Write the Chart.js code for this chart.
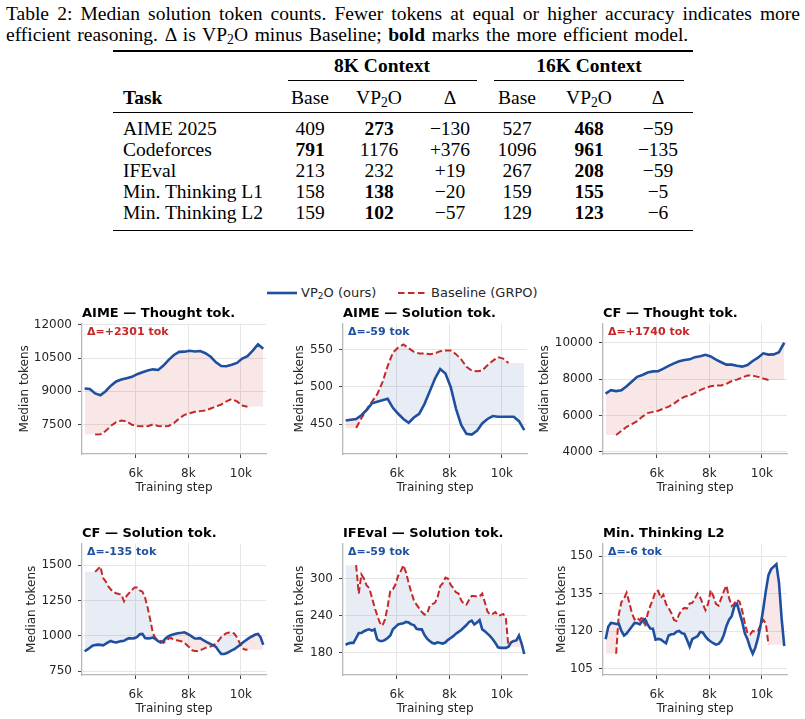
<!DOCTYPE html>
<html>
<head>
<meta charset="utf-8">
<script src="https://cdn.jsdelivr.net/npm/chart.js@4.4.1/dist/chart.umd.min.js"></script>
<style>
  body { margin: 0; background: #fff; width: 805px; height: 719px; position: relative; overflow: hidden;
         font-family: "Liberation Serif", "Times New Roman", serif; color: #000; }
  .cap { position: absolute; left: 6px; width: 794px; font-size: 19.5px; line-height: 21px; }
  .cap1 { top: 3px; text-align: justify; text-align-last: justify; }
  .cap2 { top: 24px; white-space: nowrap; word-spacing: 1.8px; }
  sub { font-size: 70%; line-height: 0; vertical-align: -0.25em; }
  .rule { position: absolute; background: #000; }
  .cell { position: absolute; font-size: 19.5px; line-height: 21px; white-space: nowrap; }
  .num { width: 120px; text-align: center; }
  .b { font-weight: bold; }
  .leg { position: absolute; font-family: "DejaVu Sans", sans-serif; font-size: 13px; color: #262626; line-height: 16px; white-space: nowrap; }
  canvas { position: absolute; }
</style>
</head>
<body>
<div class="cap cap1">Table 2: Median solution token counts. Fewer tokens at equal or higher accuracy indicates more</div>
<div class="cap cap2">efficient reasoning. Δ is VP<sub>2</sub>O minus Baseline; <b>bold</b> marks the more efficient model.</div>
<div id="table"></div>

<svg class="leg" style="left:266px;top:285px" width="32" height="16"><line x1="1" y1="8" x2="31" y2="8" stroke="#1f50a0" stroke-width="2.6"/></svg>
<div class="leg" style="left:301px;top:285px">VP<sub>2</sub>O (ours)</div>
<svg class="leg" style="left:397px;top:285px" width="32" height="16"><line x1="1" y1="8" x2="29" y2="8" stroke="#c62828" stroke-width="2" stroke-dasharray="6.5 3.5"/></svg>
<div class="leg" style="left:431px;top:285px">Baseline (GRPO)</div>

<canvas id="p0" width="260" height="196" style="left:12px;top:302px"></canvas>
<canvas id="p1" width="260" height="196" style="left:273px;top:302px"></canvas>
<canvas id="p2" width="260" height="196" style="left:533px;top:302px"></canvas>
<canvas id="p3" width="260" height="197" style="left:12px;top:522px"></canvas>
<canvas id="p4" width="260" height="197" style="left:273px;top:522px"></canvas>
<canvas id="p5" width="260" height="197" style="left:533px;top:522px"></canvas>

<script>
// ---- table data ----
const TASKS = ['AIME 2025', 'Codeforces', 'IFEval', 'Min. Thinking L1', 'Min. Thinking L2'];
const BASE_8K = ['409', '791', '213', '158', '159'];
const VP_8K = ['273', '1176', '232', '138', '102'];
const DELTA_8K = ['\u2212130', '+376', '+19', '\u221220', '\u221257'];
const BASE_16K = ['527', '1096', '267', '159', '129'];
const VP_16K = ['468', '961', '208', '155', '123'];
const DELTA_16K = ['\u221259', '\u2212135', '\u221259', '\u22125', '\u22126'];
const BOLD_8K = ['vp', 'base', '', 'vp', 'vp'];
const BOLD_16K = ['vp', 'vp', 'vp', 'vp', 'vp'];

// ---- chart data ----
const STEPS_TOP = [4050, 4250, 4450, 4650, 4850, 5050, 5250, 5450, 5650, 5850, 6050, 6250, 6450, 6650, 6850,
  7050, 7250, 7450, 7650, 7850, 8050, 8250, 8450, 8650, 8850, 9050, 9250, 9450, 9650, 9850,
  10050, 10250, 10450, 10650, 10850];
const STEPS_BOTTOM = [4050, 4150, 4250, 4350, 4450, 4550, 4650, 4750, 4850, 4950,
  5050, 5150, 5250, 5350, 5450, 5550, 5650, 5750, 5850, 5950,
  6050, 6150, 6250, 6350, 6450, 6550, 6650, 6750, 6850, 6950,
  7050, 7150, 7250, 7350, 7450, 7550, 7650, 7750, 7850, 7950,
  8050, 8150, 8250, 8350, 8450, 8550, 8650, 8750, 8850, 8950,
  9050, 9150, 9250, 9350, 9450, 9550, 9650, 9750, 9850, 9950,
  10050, 10150, 10250, 10350, 10450, 10550, 10650, 10750, 10850];

const AIME_THOUGHT_VP = [9120, 9100, 8900, 8820, 9000, 9250, 9440, 9530, 9590, 9650, 9770, 9860, 9940, 9990, 9960,
  10160, 10420, 10640, 10780, 10790, 10830, 10800, 10820, 10720, 10560, 10310, 10140, 10130, 10200, 10280,
  10480, 10590, 10840, 11120, 10920];
const AIME_THOUGHT_BASE = [null, null, 7040, 7050, 7200, 7430, 7600, 7670, 7640, 7480, 7430, 7420, 7420, 7500, 7430,
  7410, 7430, 7560, 7770, 7930, 8000, 8070, 8100, 8130, 8220, 8310, 8400, 8540, 8650, 8540,
  8350, 8300, null, null, null];

const AIME_SOL_VP = [455, 456, 457, 462, 469, 478, 480, 482, 484, 472, 464, 457, 452, 459, 464,
  477, 494, 511, 524, 518, 500, 471, 449, 437, 436, 441, 451, 457, 461, 460,
  460, 460, 460, 454, 442];
const AIME_SOL_BASE = [null, null, 445, 458, 470, 480, 490, 506, 528, 546, 553, 557, 552, 547, 545,
  545, 544, 545, 548, 549, 549, 544, 537, 527, 522, 521, 522, 529, 535, 540,
  538, 532, null, null, null];

const CF_THOUGHT_VP = [7200, 7390, 7340, 7380, 7610, 7870, 8120, 8220, 8360, 8420, 8430, 8570, 8720, 8860, 8970,
  9040, 9080, 9200, 9250, 9330, 9240, 9060, 8920, 8790, 8790, 8730, 8680, 8770, 8990, 9170,
  9410, 9340, 9350, 9470, 9990];
const CF_THOUGHT_BASE = [null, null, 4930, 5160, 5380, 5530, 5690, 5940, 6130, 6200, 6260, 6380, 6490, 6650, 6860,
  7030, 7100, 7240, 7390, 7510, 7600, 7650, 7650, 7740, 7890, 7970, 8080, 8190, 8190, 8120,
  8030, 7950, null, null, null];

const CF_SOL_VP = [890, 902, 915, 929, 934, 937, 935, 932, 943, 954,
  963, 955, 952, 958, 962, 964, 975, 983, 980, 983,
  992, 1010, 1013, 984, 981, 982, 988, 975, 962, 952,
  963, 984, 997, 1005, 1010, 1015, 1019, 1021, 1024, 1015,
  1005, 992, 980, 981, 983, 971, 960, 950, 941, 932,
  921, 893, 871, 871, 876, 886, 896, 905, 918, 933,
  949, 963, 976, 988, 998, 1008, 1012, 989, 935];
const CF_SOL_BASE = [null, null, null, null, 1452, 1470, 1490, 1410, 1385, 1349,
  1327, 1308, 1301, 1295, 1292, 1244, 1282, 1303, 1323, 1342,
  1341, 1320, 1312, 1270, 1198, 1112, 1017, 983, 969, 961,
  950, 962, 980, 983, 971, 968, 964, 959, 950, 933,
  915, 897, 891, 891, 898, 905, 914, 920, 924, 933,
  945, 966, 990, 1006, 1018, 1022, 1024, 1015, 988, 949,
  911, 902, 900, null, null, null, null, null, null];

const IFEVAL_VP = [193, 195, 196, 196, 204, 212, 212, 215, 217, 218,
  216, 218, 202, 199, 199, 201, 204, 208, 218, 222,
  226, 227, 228, 230, 229, 226, 225, 219, 218, 218,
  209, 203, 199, 196, 195, 197, 196, 195, 197, 201,
  204, 207, 211, 214, 217, 221, 225, 230, 232, 226,
  229, 233, 218, 215, 211, 207, 202, 196, 189, 188,
  188, 188, 190, 197, 199, 200, 208, 195, 178];
const IFEVAL_BASE = [null, null, null, null, 322, 276, 307, 300, 289, 285,
  270, 254, 241, 229, 224, 234, 255, 280, 283, 291,
  305, 312, 322, 310, 293, 278, 265, 258, 252, 246,
  242, 243, 256, 259, 261, 270, 288, 293, 302, 300,
  290, 285, 278, 276, 265, 259, 258, 266, 272, 272,
  271, 271, 276, 262, 247, 242, 243, 246, 240, 241,
  243, 236, 189, null, null, null, null, null, null];

const MIN_L2_VP = [116.8, 121.8, 123.3, 123.2, 122.9, 123.0, 120.1, 118.3, 119.1, 120.5,
  121.9, 123.3, 123.2, 122.7, 124.2, 124.8, 122.6, 121.1, 121.0, 116.6,
  116.9, 116.7, 115.9, 115.2, 118.3, 118.8, 118.9, 119.8, 120.1, 119.2,
  118.9, 116.5, 113.9, 116.9, 117.4, 118.0, 119.7, 119.5, 117.9, 116.7,
  115.9, 115.2, 114.6, 114.9, 116.1, 118.5, 122.1, 124.6, 126.0, 129.9,
  131.0, 127.3, 123.7, 119.1, 116.8, 113.5, 111.0, 113.5, 117.3, 122.3,
  128.8, 136.1, 142.4, 144.8, 145.8, 146.8, 139.4, 125.1, 114.0];
const MIN_L2_BASE = [null, null, null, null, 111.0, 126.6, 131.6, 133.0, 135.4, 131.5,
  127.3, 124.7, 125.4, 124.3, 126.0, 121.8, 127.0, 130.1, 132.7, 135.9,
  136.2, 133.2, 134.6, 130.8, 129.2, 127.3, 124.5, 124.1, 126.8, 128.6,
  129.3, 129.1, 131.1, 131.3, 133.1, 135.1, 133.5, 130.9, 128.4, 130.9,
  136.4, 134.0, 130.9, 130.2, 133.1, 135.9, 138.2, 133.2, 130.1, 131.0,
  132.6, 131.7, 128.2, 123.3, 119.3, 118.7, 120.1, 119.8, 120.1, 122.6,
  124.5, 123.1, 114.6, null, null, null, null, null, null];

const PANEL_TITLES = ['AIME \u2014 Thought tok.', 'AIME \u2014 Solution tok.', 'CF \u2014 Thought tok.',
  'CF \u2014 Solution tok.', 'IFEval \u2014 Solution tok.', 'Min. Thinking L2'];
const DELTA_TOK = [2301, -59, 1740, -135, -59, -6];
const Y_MIN = [6160, 410, 3890, 722, 144, 102.5];
const Y_MAX = [12060, 585, 11040, 1652, 357, 155];
const Y_TICKS = [[7500, 9000, 10500, 12000], [450, 500, 550], [4000, 6000, 8000, 10000],
  [750, 1000, 1250, 1500], [180, 240, 300], [105, 120, 135, 150]];
const X_TICKS = [6000, 8000, 10000];

const PANELS = [
  [STEPS_TOP, AIME_THOUGHT_VP, AIME_THOUGHT_BASE],
  [STEPS_TOP, AIME_SOL_VP, AIME_SOL_BASE],
  [STEPS_TOP, CF_THOUGHT_VP, CF_THOUGHT_BASE],
  [STEPS_BOTTOM, CF_SOL_VP, CF_SOL_BASE],
  [STEPS_BOTTOM, IFEVAL_VP, IFEVAL_BASE],
  [STEPS_BOTTOM, MIN_L2_VP, MIN_L2_BASE]
];

// ---- styles ----
const BLUE = '#1f50a0';
const RED = '#c62828';
const FILL_ABOVE = 'rgba(198, 40, 40, 0.11)';
const FILL_BELOW = 'rgba(31, 80, 160, 0.1)';
const GRID = '#e6e6e6';
const SPINE = '#b8b8b8';
const TICK = '#444';
const TXT = '#262626';
const SANS = '"DejaVu Sans", sans-serif';
const YLABEL_PAD = [5.8, 19.8, 4.8, 12.2, 19.8, 21.2];

// ---- table ----
const table = document.getElementById('table');
function addRule(x, y, w, h) {
  const d = document.createElement('div');
  d.className = 'rule';
  d.style.cssText = `left:${x}px;top:${y}px;width:${w}px;height:${h}px`;
  table.appendChild(d);
}
function addCell(html, cx, cy, bold, left) {
  const d = document.createElement('div');
  d.className = 'cell' + (left ? '' : ' num') + (bold ? ' b' : '');
  d.style.left = (left ? cx : cx - 60) + 'px';
  d.style.top = (cy - 10.5) + 'px';
  d.innerHTML = html;
  table.appendChild(d);
}
const COLS = [310, 379, 450, 517, 589, 658];
addRule(113, 50, 580, 1.6);
addCell('8K Context', 382, 65, true);
addCell('16K Context', 589, 65, true);
addRule(288, 80, 189, 1);
addRule(494, 80, 190, 1);
addCell('Task', 123, 97, true, true);
['Base', 'VP<sub>2</sub>O', '\u0394', 'Base', 'VP<sub>2</sub>O', '\u0394'].forEach((h, j) => addCell(h, COLS[j], 97));
addRule(113, 111.5, 580, 1);
TASKS.forEach((t, i) => {
  const y = 128 + 21 * i;
  addCell(t, 123, y, false, true);
  addCell(BASE_8K[i], COLS[0], y, BOLD_8K[i] === 'base');
  addCell(VP_8K[i], COLS[1], y, BOLD_8K[i] === 'vp');
  addCell(DELTA_8K[i], COLS[2], y);
  addCell(BASE_16K[i], COLS[3], y, BOLD_16K[i] === 'base');
  addCell(VP_16K[i], COLS[4], y, BOLD_16K[i] === 'vp');
  addCell(DELTA_16K[i], COLS[5], y);
});
addRule(113, 229.5, 580, 1.6);

// ---- charts ----
function extendEnds(arr) {
  const first = arr.findIndex(v => v !== null);
  let last = arr.length - 1;
  while (arr[last] === null) last--;
  return arr.map((v, i) => (i < first ? arr[first] : i > last ? arr[last] : v));
}

const deltaNote = {
  id: 'deltaNote',
  afterDatasetsDraw(chart, args, opts) {
    const {ctx, chartArea} = chart;
    ctx.save();
    ctx.font = 'bold 11px ' + SANS;
    ctx.fillStyle = opts.color;
    ctx.textBaseline = 'middle';
    ctx.fillText(opts.text, chartArea.left + 5, chartArea.top + 8.5);
    ctx.restore();
  }
};

PANELS.forEach(([steps, vp, base], i) => {
  const pts = arr => arr.map((v, k) => ({x: steps[k], y: v}));
  const d = DELTA_TOK[i];
  new Chart(document.getElementById('p' + i), {
    type: 'line',
    data: {
      datasets: [
        {data: pts(vp), borderColor: BLUE, borderWidth: 2.6, pointRadius: 0, tension: 0,
         fill: {target: 2, above: FILL_ABOVE, below: FILL_BELOW}},
        {data: pts(base), borderColor: RED, borderWidth: 2, borderDash: [6.5, 3], pointRadius: 0, tension: 0, fill: false},
        {data: pts(extendEnds(base)), borderColor: 'rgba(0,0,0,0)', borderWidth: 0, pointRadius: 0, fill: false}
      ]
    },
    plugins: [deltaNote],
    options: {
      responsive: false,
      animation: false,
      events: [],
      layout: {padding: {left: 0, right: 6, top: 0, bottom: 0}},
      plugins: {
        legend: {display: false},
        tooltip: {enabled: false},
        filler: {drawTime: 'beforeDatasetsDraw'},
        title: {display: true, text: PANEL_TITLES[i], align: 'start', fullSize: false, color: '#000',
                font: {family: SANS, size: 13, weight: 'bold', lineHeight: 1.2}, padding: {top: 4, bottom: 2}},
        deltaNote: {text: '\u0394=' + (d > 0 ? '+' : '') + d + ' tok', color: d > 0 ? RED : BLUE}
      },
      scales: {
        x: {
          type: 'linear', min: 3950, max: 10955,
          afterBuildTicks: s => { s.ticks = X_TICKS.map(v => ({value: v})); },
          afterFit: s => { s.height = 44; },
          ticks: {callback: v => v / 1000 + 'k', color: TXT, font: {family: SANS, size: 12}, padding: 9, maxRotation: 0},
          grid: {color: GRID, lineWidth: 1, tickLength: 4, tickColor: TICK, tickWidth: 1},
          border: {color: SPINE, width: 1.3},
          title: {display: true, text: 'Training step', color: TXT, font: {family: SANS, size: 12}, padding: {top: 0, bottom: 2.8}}
        },
        y: {
          min: Y_MIN[i], max: Y_MAX[i],
          afterBuildTicks: s => { s.ticks = Y_TICKS[i].map(v => ({value: v})); },
          afterFit: s => { s.width = 70; },
          ticks: {callback: v => String(v), color: TXT, font: {family: SANS, size: 12}, padding: 6},
          grid: {color: GRID, lineWidth: 1, tickLength: 4, tickColor: TICK, tickWidth: 1},
          border: {color: SPINE, width: 1.3},
          title: {display: true, text: 'Median tokens', color: TXT, font: {family: SANS, size: 12}, padding: {top: YLABEL_PAD[i], bottom: 0}}
        }
      }
    }
  });
});
</script>
</body>
</html>
